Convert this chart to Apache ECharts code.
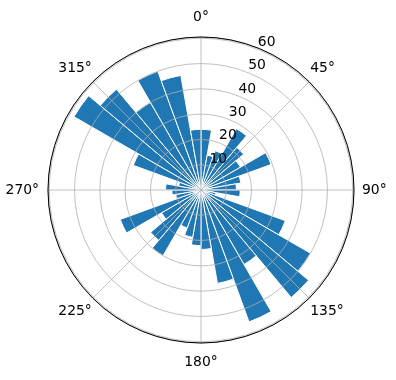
<!DOCTYPE html>
<html lang="en">
<head>
    <meta charset="UTF-8">
    <title>polar bars</title>
    <script src="https://cdn.jsdelivr.net/npm/echarts/dist/echarts.min.js"></script>
    <style>body{margin:0;background:#fff;}</style>
</head>
<body>
    <div id="main" style="width: 396px;height: 380px"></div>
    <script type="text/javascript">
        // sector centres (deg, clockwise from north), 10 deg wide each
        var sectors = [5, 15, 25, 35, 45, 55, 65, 75, 85,
                       95, 105, 115, 125, 135, 145, 155, 165, 175,
                       185, 195, 205, 215, 225, 235, 245, 255, 265,
                       275, 285, 295, 305, 315, 325, 335, 345, 355];
        var radii = [24, 14, 16.5, 28, 22, 18, 29.5, 16, 14,
                     15.5, 6, 35.5, 50, 55.5, 34, 55.5, 37.5, 23.5,
                     22, 19, 16, 30, 26, 18, 34, 10, 11.5,
                     14, 9, 28.5, 58, 52, 40, 50, 46, 24];
        var angleTicks = [0, 45, 90, 135, 180, 225, 270, 315];
        var radialTicks = [10, 20, 30, 40, 50, 60];

        var rMax = 60.5;
        var ctr = [201, 190];
        var rad = 153;
        var font = 'DejaVu Sans';
        var grid = '#b0b0b0';

        // per-label nudges so the labels sit where matplotlib puts them
        function tStyle(pad) {
            return {padding: pad, fontFamily: font, fontSize: 13.9, color: '#000'};
        }

        var myChart = echarts.init(document.getElementById('main'));

        option = {
            animation: false,
            polar: [
                {center: ctr, radius: rad},
                {center: ctr, radius: rad},
                {center: ctr, radius: rad}
            ],
            angleAxis: [
                {
                    polarIndex: 0,
                    type: 'value',
                    min: 0,
                    max: 360,
                    interval: 45,
                    startAngle: 90,
                    clockwise: true,
                    z: 10,
                    axisLine: {lineStyle: {color: '#000', width: 1}},
                    axisTick: {show: false},
                    axisLabel: {
                        margin: 1.5,
                        color: '#000',
                        fontFamily: font,
                        fontSize: 13.9,
                        formatter: function (v) {
                            if (angleTicks.indexOf(v) < 0) return '';
                            return '{a' + v + '|' + v + '°}';
                        },
                        rich: {
                            a0: tStyle([0, 0, 11, 0]),
                            a45: tStyle([0, 0, 5.5, 0]),
                            a90: tStyle([0, 0, 0, 6.5]),
                            a135: tStyle([5.5, 0, 0, 0]),
                            a180: tStyle([11, 0, 0, 0]),
                            a225: tStyle([5.5, 0, 0, 0]),
                            a270: tStyle([0, 7.5, 0, 0]),
                            a315: tStyle([0, 0, 5.5, 0])
                        }
                    },
                    splitLine: {lineStyle: {color: grid, width: 0.8}}
                },
                {
                    polarIndex: 1,
                    type: 'category',
                    data: sectors,
                    startAngle: 90,
                    clockwise: true,
                    axisLine: {show: false},
                    axisTick: {show: false},
                    axisLabel: {show: false},
                    splitLine: {show: false}
                },
                {
                    polarIndex: 2,
                    type: 'value',
                    min: 0,
                    max: 360,
                    startAngle: 67.5,
                    axisLine: {show: false},
                    axisTick: {show: false},
                    axisLabel: {show: false},
                    splitLine: {show: false}
                }
            ],
            radiusAxis: [
                {
                    polarIndex: 0,
                    type: 'value',
                    min: 0,
                    max: rMax,
                    interval: 10,
                    z: 10,
                    axisLine: {show: false},
                    axisTick: {show: false},
                    axisLabel: {show: false},
                    splitLine: {lineStyle: {color: grid, width: 0.8}}
                },
                {
                    polarIndex: 1,
                    type: 'value',
                    min: 0,
                    max: rMax,
                    axisLine: {show: false},
                    axisTick: {show: false},
                    axisLabel: {show: false},
                    splitLine: {show: false}
                },
                {
                    polarIndex: 2,
                    type: 'value',
                    min: 0,
                    max: rMax,
                    interval: 10,
                    z: 11,
                    axisLine: {show: false},
                    axisTick: {show: false},
                    splitLine: {show: false},
                    axisLabel: {
                        margin: 0,
                        align: 'center',
                        verticalAlign: 'middle',
                        color: '#000',
                        fontFamily: font,
                        fontSize: 13.9,
                        formatter: function (v) {
                            return radialTicks.indexOf(v) >= 0 ? '{r|' + v + '}' : '';
                        },
                        rich: {
                            r: tStyle([0, 0, 15, 15.2])
                        }
                    }
                }
            ],
            series: [
                {
                    type: 'bar',
                    coordinateSystem: 'polar',
                    polarIndex: 1,
                    data: radii,
                    barCategoryGap: '0%',
                    itemStyle: {color: '#1f77b4', borderColor: '#fff', borderWidth: 1}
                }
            ]
        };

        myChart.setOption(option);
    </script>
</body>
</html>
